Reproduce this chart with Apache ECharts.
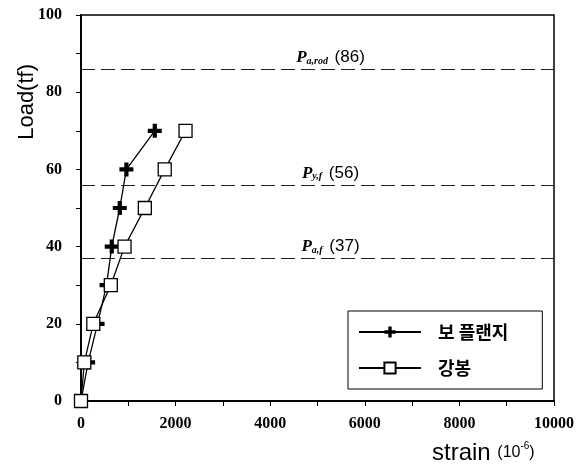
<!DOCTYPE html>
<html>
<head>
<meta charset="utf-8">
<script src="https://cdn.jsdelivr.net/npm/echarts@6/dist/echarts.min.js"></script>
<style>
html, body { margin: 0; padding: 0; background: #fff; }
#chart { width: 587px; height: 471px; }
</style>
</head>
<body>
<div id="chart"></div>
<script>
// load steps (tf) and measured strain (10^-6)
var loads = [0, 10, 20, 30, 40, 50, 60, 70];
var flangeStrain = [0, 150, 350, 540, 650, 820, 960, 1560];
var rodStrain = [0, 70, 260, 630, 920, 1350, 1770, 2210];
var seriesNames = ['보 플랜지', '강봉'];

// reference loads
var refLoads = [86, 56, 37];
var refSubs = ['a,rod', 'y,f', 'a,f'];

function pairs(xs, ys) {
    var out = [];
    for (var i = 0; i < xs.length; i++) out.push([xs[i], ys[i]]);
    return out;
}

var plusPath = 'path://M3.5,0H6.5V3.5H10V6.5H6.5V10H3.5V6.5H0V3.5H3.5Z';
var serifTick = { fontFamily: 'Liberation Serif', fontWeight: 'bold', fontSize: 16, color: '#000' };

var refLines = [];
for (var i = 0; i < refLoads.length; i++) {
    refLines.push({
        yAxis: refLoads[i],
        label: {
            formatter: '{p|P}{s|' + refSubs[i] + '}  {v|(' + refLoads[i] + ')}'
        }
    });
}

var chart = echarts.init(document.getElementById('chart'));
var option = {
    animation: false,
    grid: {
        left: 81,
        right: 33,
        top: 15,
        bottom: 70,
        show: true,
        borderColor: '#000',
        borderWidth: 1.5
    },
    xAxis: {
        type: 'value',
        min: 0,
        max: 10000,
        interval: 2000,
        axisLine: { onZero: false, lineStyle: { color: '#000', width: 2 } },
        axisTick: { length: 5, lineStyle: { color: '#000' } },
        minorTick: { show: true, splitNumber: 2, length: 5, lineStyle: { color: '#000' } },
        splitLine: { show: false },
        axisLabel: Object.assign({ margin: 15, formatter: function (v) { return String(v); } }, serifTick)
    },
    yAxis: {
        type: 'value',
        min: 0,
        max: 100,
        interval: 20,
        axisLine: { lineStyle: { color: '#000', width: 2 } },
        axisTick: { length: 5, lineStyle: { color: '#000' } },
        minorTick: { show: true, splitNumber: 2, length: 5, lineStyle: { color: '#000' } },
        splitLine: { show: false },
        axisLabel: Object.assign({ margin: 19 }, serifTick)
    },
    legend: {
        orient: 'vertical',
        left: 348,
        top: 311,
        padding: [12, 34, 12, 10],
        borderColor: '#000',
        borderWidth: 1,
        itemWidth: 62,
        itemHeight: 14,
        itemGap: 18,
        textStyle: {
            fontFamily: 'Noto Sans CJK KR',
            fontWeight: 'bold',
            fontSize: 18,
            color: '#000',
            padding: [0, 0, 0, 12]
        },
        data: seriesNames
    },
    graphic: [
        {
            type: 'text',
            left: 16,
            top: 64,
            rotation: Math.PI / 2,
            style: {
                text: 'Load(tf)',
                font: '22px "Liberation Sans"',
                fill: '#000'
            }
        },
        {
            type: 'text',
            left: 432,
            top: 441,
            style: {
                text: '{a|strain }{b|(10}{c|-6}{b|)}',
                rich: {
                    a: { font: '24px "Liberation Sans"', fill: '#000' },
                    b: { font: '16px "Liberation Sans"', fill: '#000' },
                    c: { font: '10px "Liberation Sans"', fill: '#000', verticalAlign: 'top', padding: [0, 0, 8, 0] }
                }
            }
        }
    ],
    series: [
        {
            name: seriesNames[0],
            type: 'line',
            data: pairs(flangeStrain, loads),
            symbol: plusPath,
            symbolSize: 14,
            lineStyle: { color: '#000', width: 1.3 },
            itemStyle: { color: '#000' },
            z: 3,
            markLine: {
                silent: true,
                symbol: 'none',
                lineStyle: { color: '#222', type: [14, 6], width: 1.2 },
                label: {
                    position: 'middle',
                    distance: 3,
                    padding: [0, 0, 0, 26],
                    rich: {
                        p: { fontFamily: 'Liberation Serif', fontStyle: 'italic', fontWeight: 'bold', fontSize: 17, color: '#000' },
                        s: { fontFamily: 'Liberation Serif', fontStyle: 'italic', fontWeight: 'bold', fontSize: 10, color: '#000', verticalAlign: 'bottom' },
                        v: { fontFamily: 'Liberation Sans', fontSize: 17, color: '#000' }
                    }
                },
                data: refLines
            }
        },
        {
            name: seriesNames[1],
            type: 'line',
            data: pairs(rodStrain, loads),
            symbol: 'rect',
            symbolSize: 13,
            lineStyle: { color: '#000', width: 1.3 },
            itemStyle: { color: '#fff', borderColor: '#000', borderWidth: 1.3 },
            z: 4
        }
    ]
};
chart.setOption(option);
</script>
</body>
</html>
